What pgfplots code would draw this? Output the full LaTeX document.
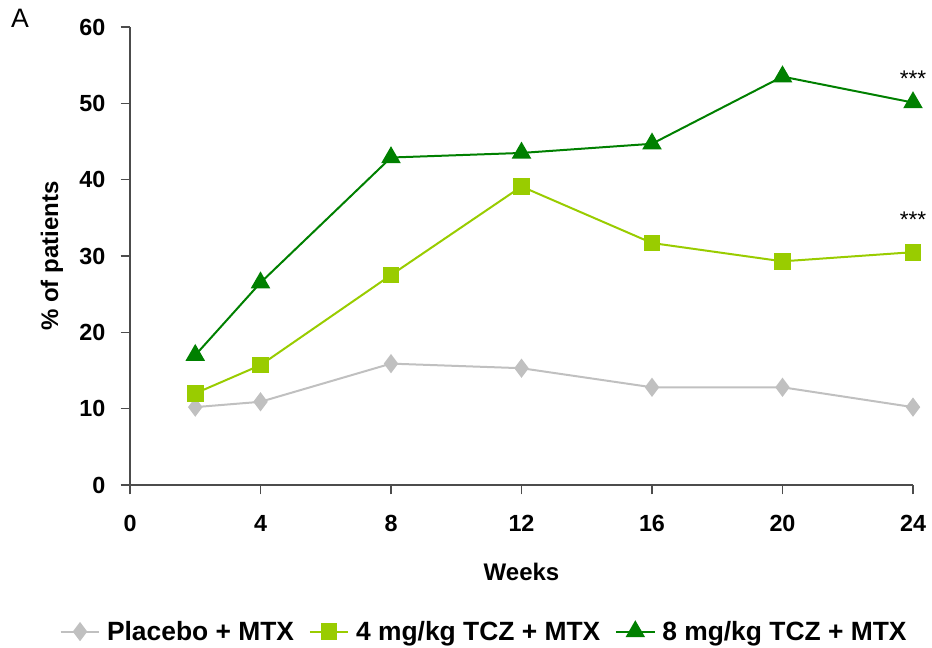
\documentclass[border=0pt]{standalone}
\usepackage{fontspec}
\setmainfont{Liberation Sans}
\usepackage{pgfplots}
\pgfplotsset{compat=1.18}
\definecolor{cgray}{RGB}{192,192,192}
\definecolor{clime}{RGB}{153,204,0}
\definecolor{cgreen}{RGB}{0,128,0}
\begin{document}
\begin{tikzpicture}
\useasboundingbox (-97.5pt,-122.25pt) rectangle (601.5pt,363.75pt);
\begin{axis}[
  at={(0pt,0pt)}, anchor=origin,
  scale only axis,
  width=587.25pt, height=343.5pt,
  xmin=0, xmax=24, ymin=0, ymax=60,
  xtick={0,4,8,12,16,20,24},
  ytick={0,10,20,30,40,50,60},
  axis lines*=left,
  axis line style={black!70, line width=0.8pt},
  tick style={black!70, line width=0.8pt},
  tick align=outside,
  major tick length=7pt,
  /pgf/number format/assume math mode=true,
  ticklabel style={font=\fontsize{17.5}{20}\selectfont\bfseries},
  xticklabel style={yshift=-12pt},
  yticklabel style={xshift=-8pt},
  xlabel={Weeks},
  ylabel={\% of patients},
  label style={font=\fontsize{18}{21}\selectfont\bfseries},
  xlabel style={at={(axis description cs:0.5,-0.189)}, anchor=center},
  ylabel style={at={(axis description cs:-0.0996,0.5)}, anchor=center},
  clip=false,
  legend columns=3,
  legend style={draw=none, at={(0.4527,-0.32)}, anchor=center,
    font=\fontsize{19.8}{22}\selectfont\bfseries,
    /tikz/every odd column/.append style={column sep=3pt},
    /tikz/every even column/.append style={column sep=9pt}},
  legend cell align=left,
  legend image code/.code={
    \draw[mark repeat=2,mark phase=2] plot coordinates {(0pt,0pt) (14.5pt,0pt) (29pt,0pt)};
  },
]
\addplot[cgray, line width=1.5pt, mark=diamond*, mark size=6pt, mark options={fill=cgray, draw=cgray}]
 coordinates {(2,10.2) (4,10.9) (8,15.9) (12,15.3) (16,12.8) (20,12.8) (24,10.2)};
\addlegendentry{Placebo + MTX}
\addplot[clime, line width=1.5pt, mark=square*, mark size=5.5pt, mark options={fill=clime, draw=clime}]
 coordinates {(2,12.0) (4,15.7) (8,27.5) (12,39.1) (16,31.7) (20,29.3) (24,30.5)};
\addlegendentry{4 mg/kg TCZ + MTX}
\addplot[cgreen, line width=1.5pt, mark=triangle*, mark size=7pt, mark options={fill=cgreen, draw=cgreen}]
 coordinates {(2,17.0) (4,26.5) (8,42.9) (12,43.5) (16,44.7) (20,53.5) (24,50.1)};
\addlegendentry{8 mg/kg TCZ + MTX}
\node[font=\fontsize{17}{20}\selectfont] at (axis cs:24,53.2) {***};
\node[font=\fontsize{17}{20}\selectfont] at (axis cs:24,34.8) {***};
\end{axis}
\node[font=\fontsize{20}{24}\selectfont] at (-82.5pt,350.25pt) {A};
\end{tikzpicture}
\end{document}
